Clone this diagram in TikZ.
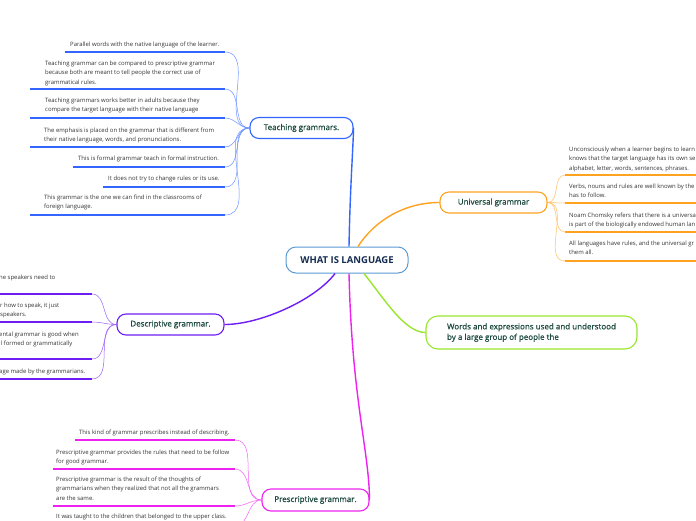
\documentclass[tikz,border=0pt]{standalone}
\usepackage{fontspec}
\setmainfont{Open Sans}
\newfontfamily\medfont[RawFeature={embolden=0.7}]{Open Sans}
\definecolor{cblue}{HTML}{3366FF}
\definecolor{corange}{HTML}{FFA21F}
\definecolor{cgreen}{HTML}{99E62E}
\definecolor{cpurple}{HTML}{6E1EF5}
\definecolor{cmagenta}{HTML}{EE22EE}
\definecolor{croot}{HTML}{5B9BD5}
\definecolor{leaftext}{HTML}{333333}
\definecolor{nodetext}{HTML}{1D4B3F}
\definecolor{roottext}{HTML}{162D52}
\tikzset{
  leaf/.style={anchor=north west, inner sep=0pt, align=left, font=\fontsize{5.95}{9.2}\selectfont, text=leaftext},
  branch/.style={draw, rounded corners=9pt, line width=1.1pt, inner sep=0pt, font=\medfont\fontsize{8}{10.5}\selectfont, text=nodetext, fill=white, align=left},
  uline/.style={line width=1.8pt},
  twig/.style={line width=0.5pt},
  mainline/.style={line width=1.4pt}
}
\begin{document}
\begin{tikzpicture}[x=1pt,y=-1pt]
\useasboundingbox (0,0) rectangle (696,520);
\clip (0,0) rectangle (696,520);
\fill[white] (0,0) rectangle (696,520);

% ---------- root ----------
\node[branch, draw=croot, line width=1pt, rounded corners=10pt, minimum width=122pt, minimum height=26pt, text=roottext, font=\fontsize{9.5}{11}\selectfont\bfseries] (root) at (347,260) {WHAT IS LANGUAGE};

% ---------- branch nodes ----------
\node[branch, draw=cblue, minimum width=103pt, minimum height=21pt] (teach) at (301.5,128) {Teaching grammars.};
\node[branch, draw=corange, minimum width=107pt, minimum height=21pt] (univ) at (493.5,202.5) {Universal grammar};
\node[branch, draw=cgreen, minimum width=211pt, minimum height=33pt, rounded corners=12pt] (words) at (531.5,332.5) {Words and expressions used and understood\\by a large group of people the};
\node[branch, draw=cpurple, minimum width=107pt, minimum height=21pt] (desc) at (170.5,324.5) {Descriptive grammar.};
\node[branch, draw=cmagenta, minimum width=107pt, minimum height=22pt] (presc) at (315.5,500) {Prescriptive grammar.};

% ---------- main connectors ----------
\draw[mainline, cblue] ([xshift=2pt]root.north) .. controls (350,190) and (353,150) .. (teach.east);
\draw[mainline, corange] ([xshift=11pt]root.north) .. controls (375,220) and (405,202.5) .. (univ.west);
\draw[mainline, cgreen] ([xshift=17pt]root.south) .. controls (385,300) and (405,332.5) .. (words.west);
\draw[mainline, cpurple] ([xshift=-12pt]root.south) .. controls (315,300) and (260,324.5) .. (desc.east);
\draw[mainline, cmagenta] ([xshift=2pt]root.south) .. controls (352,400) and (369,450) .. (presc.east);

% ---------- Teaching grammars leaves ----------
\node[leaf] (t1) at (70,42) {Parallel words with the native language of the learner.};
\node[leaf] (t2) at (45,61) {Teaching grammar can be compared to prescriptive grammar\\because both are meant to tell people the correct use of\\grammatical rules.};
\node[leaf] (t3) at (45,98) {Teaching grammars works better in adults because they\\compare the target language with their native language};
\node[leaf] (t4) at (44,128) {The emphasis is placed on the grammar that is different from\\their native language, words, and pronunciations.};
\node[leaf] (t5) at (78,156) {This is formal grammar teach in formal instruction.};
\node[leaf] (t6) at (108,176) {It does not try to change rules or its use.};
\node[leaf] (t7) at (44,195) {This grammar is the one we can find in the classrooms of\\foreign language.};
\foreach \n/\xa/\y in {1/65/52, 2/30/89, 3/30/118, 4/30/147, 5/73/167, 6/103/187, 7/30/215}{
  \coordinate (ta\n) at (\xa,\y);
  \coordinate (tb\n) at (225,\y);
  \draw[uline, cblue] (ta\n) -- (tb\n);
  \draw[twig, cblue!70] (tb\n) to[out=0,in=180] (teach.west);
}

% ---------- Universal grammar leaves ----------
\node[leaf] (u1) at (569,147) {Unconsciously when a learner begins to learn\\knows that the target language has its own se\\alphabet, letter, words, sentences, phrases.};
\node[leaf] (u2) at (569,184) {Verbs, nouns and rules are well known by the\\has to follow.};
\node[leaf] (u3) at (569,213) {Noam Chomsky refers that there is a universa\\is part of the biologically endowed human lan};
\node[leaf] (u4) at (569,241) {All languages have rules, and the universal gr\\them all.};
\foreach \n/\y in {1/175, 2/203, 3/232, 4/261}{
  \coordinate (ua\n) at (565,\y);
  \coordinate (ub\n) at (700,\y);
  \draw[uline, corange] (ua\n) -- (ub\n);
  \draw[twig, corange!70] (univ.east) to[out=0,in=180] (ua\n);
}

% ---------- Descriptive grammar leaves ----------
\node[leaf] (d1) at (-1,275) {he speakers need to};
\node[leaf] (d2) at (0,303) {r how to speak, it just\\speakers.};
\node[leaf] (d3) at (-1,332) {ental grammar is good when\\ll formed or grammatically};
\node[leaf] (d4) at (-1,369) {age made by the grammarians.};
\foreach \n/\y in {1/294, 2/322, 3/359, 4/379}{
  \coordinate (da\n) at (-5,\y);
  \coordinate (db\n) at (92,\y);
  \draw[uline, cpurple] (da\n) -- (db\n);
  \draw[twig, cpurple!70] (db\n) to[out=0,in=180] (desc.west);
}

% ---------- Prescriptive grammar leaves ----------
\node[leaf] (p1) at (79,430) {This kind of grammar prescribes instead of describing.};
\node[leaf] (p2) at (56,450) {Prescriptive grammar provides the rules that need to be follow\\for good grammar.};
\node[leaf] (p3) at (56,477) {Prescriptive grammar is the result of the thoughts of\\grammarians when they realized that not all the grammars\\are the same.};
\node[leaf] (p4) at (56,514) {It was taught to the children that belonged to the upper class.};
\foreach \n/\xa/\y in {1/75/440, 2/53/469, 3/53/506, 4/53/526}{
  \coordinate (pa\n) at (\xa,\y);
  \coordinate (pb\n) at (235,\y);
  \draw[uline, cmagenta] (pa\n) -- (pb\n);
  \draw[twig, cmagenta!70] (pb\n) to[out=0,in=180] (presc.west);
}
\end{tikzpicture}
\end{document}
